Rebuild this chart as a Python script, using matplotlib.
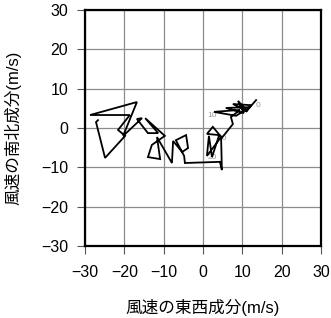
import matplotlib
matplotlib.use("Agg")
import matplotlib.pyplot as plt

plt.rcParams['font.family'] = ['Liberation Sans', 'Noto Sans CJK JP', 'DejaVu Sans']

# wind components (m/s), in time order
u = [13.5, 10.9, 12.2, 7.6, 11.2, 8.9, 10.4, 5.8, 12.0, 8.4, 2.8, 9.4, 7.1, 7.6,
     4.8, 2.5, 1.0, 4.1, 2.3, 1.5, 1.0, 4.6, 4.8, 4.3, -4.6, -4.8, -6.9, -4.3,
     -3.8, -5.3, -7.6, -7.9, -11.7, -10.9, -14.0, -13.0, -9.7, -14.7, -11.4,
     -14.0, -16.8, -15.5, -20.3, -16.8, -28.7, -18.6, -21.6, -19.8, -24.9,
     -27.2, -26.7]
v = [7.1, 4.1, 5.8, 6.1, 4.3, 6.9, 3.8, 5.1, 5.3, 3.1, 4.1, 4.6, 2.8, 1.0,
     -2.5, 0.3, -1.5, -1.8, -7.4, -2.0, -7.1, -2.3, -10.7, -8.6, -8.9, -7.1,
     -3.1, -1.8, -5.1, -6.1, -3.3, -8.9, -2.3, -7.9, -7.4, -4.3, -2.0, 2.5,
     -1.3, -1.3, 2.3, 2.5, -2.0, 6.6, 3.3, 3.3, -0.5, -2.0, -7.6, 1.5, 2.0]

# time marker labels
mark_text = ["0", "10", "20", "30"]
mark_u = [14.0, 2.4, 2.4, 4.9]
mark_v = [5.8, 3.3, -7.5, -2.6]

ticks = [-30, -20, -10, 0, 10, 20, 30]
tick_labels = ["\u221230", "\u221220", "\u221210", "0", "10", "20", "30"]

fig = plt.figure(figsize=(3.31, 3.18), dpi=100)
ax = fig.add_axes([85/331, 1-246/318, 236/331, 236/318])
ax.set_xlim(-30, 30)
ax.set_ylim(-30, 30)
ax.set_xticks(ticks)
ax.set_yticks(ticks)
ax.set_xticklabels(tick_labels)
ax.set_yticklabels(tick_labels)
ax.grid(True, color='#8c8c8c', linewidth=0.9)
ax.set_axisbelow(True)

ax.plot(u, v, color='black', linewidth=1.3, solid_joinstyle='miter', zorder=3)
for t, x, y in zip(mark_text, mark_u, mark_v):
    ax.text(x, y, t, fontsize=6, color='#999999', ha='center', va='center', zorder=2)

for s in ax.spines.values():
    s.set_linewidth(1.6)
    s.set_color('black')
ax.tick_params(direction='out', length=6, width=0.8, color='#555555',
               labelsize=11.5)
ax.tick_params(axis='x', pad=8)
ax.tick_params(axis='y', pad=6)

ax.set_xlabel("風速の東西成分(m/s)", fontsize=12, labelpad=13)
ax.set_ylabel("風速の南北成分(m/s)", fontsize=12, labelpad=14)

fig.savefig("out.png", dpi=100)
